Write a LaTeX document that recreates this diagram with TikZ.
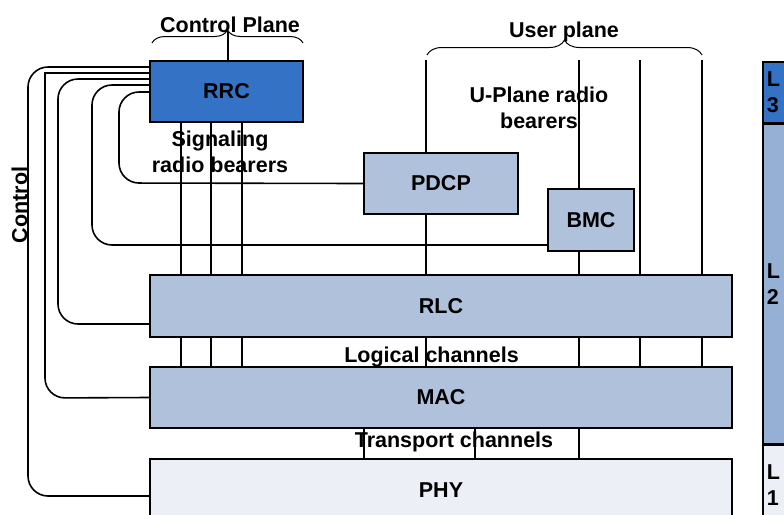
\documentclass[tikz,border=0pt]{standalone}
\usepackage{fontspec}
\setmainfont{Liberation Sans}
\usepackage{xcolor}
\usepackage{tikz}
\usetikzlibrary{positioning,decorations.pathreplacing}
\definecolor{rrcblue}{RGB}{52,114,198}
\definecolor{layerblue}{RGB}{176,194,219}
\definecolor{colblue}{RGB}{149,176,212}
\definecolor{phygray}{RGB}{236,240,246}

\begin{document}
\begin{tikzpicture}[
  x=0.5pt, y=-0.5pt,
  every node/.style={font=\fontsize{10.75}{12.75}\selectfont\bfseries, align=center},
  layer/.style={draw, line width=0.8pt, fill=layerblue, inner sep=0pt},
  lbl/.style={anchor=base, inner sep=0pt},
  link/.style={line width=0.8pt},
  ctrl/.style={line width=0.8pt, rounded corners=10pt},
  brace/.style={decorate, decoration={brace, amplitude=#1}, line width=0.5pt},
  side/.style={draw, line width=0.8pt, minimum width=30pt, text width=26pt,
    align=left, inner xsep=2pt, anchor=north west}
]
\useasboundingbox (0,0) rectangle (784,515);

\node[layer, fill=rrcblue, minimum width=76.5pt, minimum height=30.5pt] (rrc) at (226.5,91.5) {RRC};
\node[layer, minimum width=77pt, minimum height=30.5pt] (pdcp) at (441,183.5) {PDCP};
\node[layer, minimum width=43pt, minimum height=31pt] (bmc) at (591,220) {BMC};
\node[layer, minimum width=291pt, minimum height=31pt] (rlc) at (441,306) {RLC};
\node[layer, minimum width=291pt, minimum height=30.5pt] (mac) at (441,397.5) {MAC};
\node[layer, fill=phygray, minimum width=291pt, minimum height=31pt] (phy) at (441,490) {PHY};

\node[side, fill=rrcblue, minimum height=30.5pt] (l3) at (762,61) {L\\3};
\node[side, fill=colblue, minimum height=159.5pt] (l2) at (l3.south west) {L\\2};
\node[side, fill=phygray, minimum height=40pt] (l1) at (l2.south west) {L\\1};

\node[lbl] (cplane) at (230,32) {Control Plane};
\node[lbl] (uplane) at (564,37) {User plane};
\node (srb) at (220,151.7) {Signaling\\radio bearers};
\node (urb) at (539,108) {U-Plane radio\\bearers};
\node[lbl] (logch) at (431.5,362) {Logical channels};
\node[lbl] (trch) at (454,447) {Transport channels};
\node[rotate=90] (ctrltxt) at (19.5,205) {Control};

\coordinate (cpl) at (152,43);
\coordinate (cpr) at (303,43);
\coordinate (cptip) at (228,31);
\coordinate (upl) at (427,55);
\coordinate (upr) at (702,55);
\draw[brace=6.5pt] (cpl) -- (cpr);
\draw[brace=7.5pt] (upl) -- (upr);
\draw[line width=0.7pt] (rrc.north -| cptip) -- (cptip);

\coordinate (s1) at (181,0);
\coordinate (s2) at (211,0);
\coordinate (s3) at (242,0);
\draw[link] (rrc.south -| s1) -- (rlc.north -| s1) (rlc.south -| s1) -- (mac.north -| s1);
\draw[link] (rrc.south -| s2) -- (rlc.north -| s2) (rlc.south -| s2) -- (mac.north -| s2);
\draw[link] (rrc.south -| s3) -- (rlc.north -| s3) (rlc.south -| s3) -- (mac.north -| s3);

\coordinate (u1) at (426,60);
\coordinate (u2) at (579,60);
\coordinate (u3) at (640,60);
\coordinate (u4) at (702,60);
\draw[link] (u1) -- (pdcp.north -| u1) (pdcp.south -| u1) -- (rlc.north -| u1)
  (rlc.south -| u1) -- (mac.north -| u1);
\draw[link] (u2) -- (bmc.north -| u2) (bmc.south -| u2) -- (rlc.north -| u2)
  (rlc.south -| u2) -- (mac.north -| u2) (mac.south -| u2) -- (phy.north -| u2);
\draw[link] (u3) -- (rlc.north -| u3) (rlc.south -| u3) -- (mac.north -| u3);
\draw[link] (u4) -- (rlc.north -| u4) (rlc.south -| u4) -- (mac.north -| u4);

\coordinate (t1) at (364,0);
\coordinate (t2) at (475,0);
\draw[link] (mac.south -| t1) -- (phy.north -| t1);
\draw[link] (mac.south -| t2) -- (phy.north -| t2);

\draw[ctrl] (rrc.west |- 0,67) -- (28,67) -- (28,496) -- (phy.west |- 0,496);
\draw[link] (rrc.west |- 0,73) -- (45,73) [rounded corners=10pt] -- (45,398) -- (mac.west);
\draw[ctrl] (rrc.west |- 0,79) -- (58,79) -- (58,324) -- (rlc.west |- 0,324);
\draw[ctrl] (rrc.west |- 0,85) -- (92,85) -- (92,245) -- (bmc.west |- 0,245);
\draw[ctrl] (rrc.west |- 0,92) -- (119,92) -- (119,183) -- (pdcp.west);

\end{tikzpicture}
\end{document}
